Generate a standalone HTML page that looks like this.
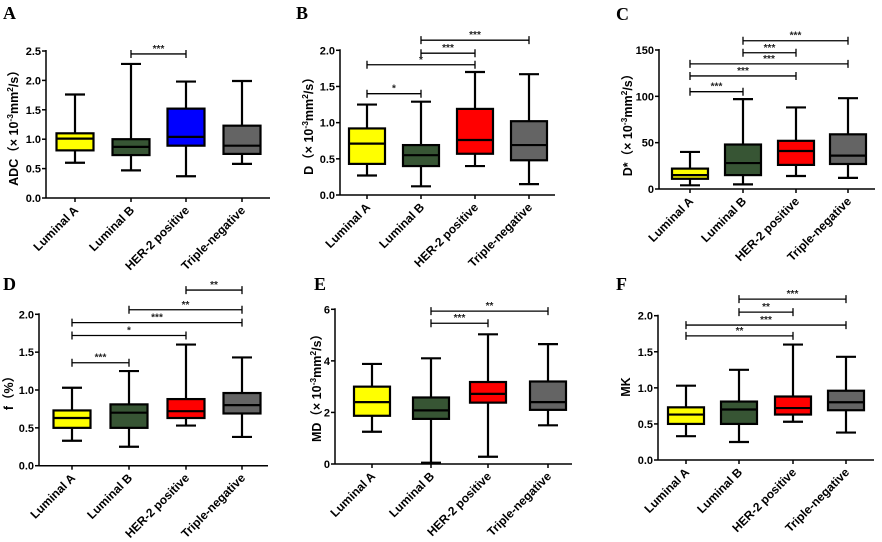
<!DOCTYPE html>
<html><head><meta charset="utf-8"><style>
body{margin:0;background:#fff}
svg{display:block;font-family:"Liberation Sans","Noto Sans CJK SC",sans-serif}
.tk{font-size:11px;font-weight:bold}
.cat{font-size:12px;font-weight:bold}
.pl{font-family:"Liberation Serif",serif;font-size:18px;font-weight:bold}
.yt{font-size:12.5px;font-weight:bold}
.st{font-size:10px;font-weight:bold;fill:#222}
</style></head><body>
<svg id="fig" width="882" height="542" viewBox="0 0 882 542" xmlns="http://www.w3.org/2000/svg"></svg>
<script>
const categories=["Luminal A","Luminal B","HER-2 positive","Triple-negative"];
const colors=["#ffff00","#375534","#0000ff","#646464"];
const colorsRed=["#ffff00","#375534","#ff0000","#646464"];
// Panel A: ADC
const aMin=[0.6,0.47,0.37,0.58],aQ1=[0.81,0.73,0.89,0.75],aMed=[1.01,0.87,1.04,0.89],aQ3=[1.1,1.0,1.52,1.23],aMax=[1.76,2.28,1.98,1.99];
const aTicks=["0.0","0.5","1.0","1.5","2.0","2.5"];
const aSig=[[1,2,2.45,"***"]];
// Panel B: D
const bMin=[0.27,0.12,0.4,0.15],bQ1=[0.43,0.4,0.57,0.48],bMed=[0.71,0.55,0.76,0.69],bQ3=[0.92,0.69,1.19,1.02],bMax=[1.25,1.29,1.7,1.67];
const bTicks=["0.0","0.5","1.0","1.5","2.0"];
const bSig=[[0,1,1.4,"*"],[0,2,1.8,"*"],[1,2,1.96,"***"],[1,3,2.14,"***"]];
// Panel C: D*
const cMin=[4,5,14,12],cQ1=[11,15,26,27],cMed=[15,28,41,36],cQ3=[22,48,52,59],cMax=[40,97,88,98];
const cTicks=["0","50","100","150"];
const cSig=[[0,1,105,"***"],[0,2,122,"***"],[0,3,135,"***"],[1,2,147,"***"],[1,3,160,"***"]];
// Panel D: f
const dMin=[0.33,0.25,0.53,0.38],dQ1=[0.5,0.5,0.63,0.69],dMed=[0.63,0.7,0.72,0.8],dQ3=[0.73,0.81,0.88,0.96],dMax=[1.03,1.25,1.6,1.43];
const dTicks=["0.0","0.5","1.0","1.5","2.0"];
const dSig=[[0,1,1.36,"***"],[0,2,1.72,"*"],[0,3,1.89,"***"],[1,3,2.06,"**"],[2,3,2.32,"**"]];
// Panel E: MD
const eMin=[1.25,0.05,0.28,1.5],eQ1=[1.87,1.75,2.38,2.1],eMed=[2.4,2.08,2.72,2.4],eQ3=[3.0,2.58,3.18,3.2],eMax=[3.88,4.1,5.03,4.65];
const eTicks=["0","2","4","6"];
const eSig=[[1,2,5.46,"***"],[1,3,5.93,"**"]];
// Panel F: MK
const fMin=[0.33,0.25,0.53,0.38],fQ1=[0.5,0.5,0.63,0.69],fMed=[0.63,0.7,0.72,0.8],fQ3=[0.73,0.81,0.88,0.96],fMax=[1.03,1.25,1.6,1.43];
const fTicks=["0.0","0.5","1.0","1.5","2.0"];
const fSig=[[0,2,1.72,"**"],[0,3,1.87,"***"],[1,2,2.05,"**"],[1,3,2.23,"***"]];

const NS="http://www.w3.org/2000/svg";
const svg=document.getElementById('fig');
function mk(tag,attrs,parent,text){const e=document.createElementNS(NS,tag);for(const k in attrs)e.setAttribute(k,attrs[k]);if(text!==undefined)e.textContent=text;(parent||svg).appendChild(e);return e;}

function panel(o){
  const g=mk('g',{});
  
  
  const y=v=>o.y0-(v-o.vmin)/(o.vmax-o.vmin)*(o.y0-o.ytop);
  const x=i=>o.cx[i];
  const lt=mk('text',{x:o.lx,y:o.ly,class:'pl'},g,o.id);
  
  
  const ya=mk('line',{x1:o.ax,y1:y(o.vmax)-1,x2:o.ax,y2:o.y0,stroke:'#000','stroke-width':1.5},g);
  
  
  const xa=mk('line',{x1:o.ax,y1:o.y0,x2:o.axEnd,y2:o.y0,stroke:'#000','stroke-width':1.5},g);
  
  
  o.ticks.forEach((t,i)=>{
    const v=o.vmin+i*o.step,yy=y(v);
    mk('line',{x1:o.ax-4,y1:yy,x2:o.ax,y2:yy,stroke:'#000','stroke-width':1.5},g);
    const tl=mk('text',{x:o.ax-5,y:yy+4,class:'tk','text-anchor':'end'},g,t);
    
    
  });
  categories.forEach((c,i)=>{
    mk('line',{x1:x(i),y1:o.y0,x2:x(i),y2:o.y0+4,stroke:'#000','stroke-width':1.5},g);
    const cl=mk('text',{x:x(i)+4,y:o.y0+13,class:'cat','text-anchor':'end',transform:`rotate(-45 ${x(i)+4} ${o.y0+13})`},g,c);
    
    
    const bw=o.bw,cap=10;
    const wk=mk('path',{d:`M${x(i)},${y(o.mn[i])}V${y(o.q1[i])}M${x(i)},${y(o.q3[i])}V${y(o.mx[i])}M${x(i)-cap},${y(o.mn[i])}H${x(i)+cap}M${x(i)-cap},${y(o.mx[i])}H${x(i)+cap}`,stroke:'#000','stroke-width':2.2,fill:'none'},g);
    
    
    const bx=mk('rect',{x:x(i)-bw/2,y:y(o.q3[i]),width:bw,height:y(o.q1[i])-y(o.q3[i]),fill:o.col[i],stroke:'#000','stroke-width':2.2},g);
    
    
    const md=mk('line',{x1:x(i)-bw/2,y1:y(o.med[i]),x2:x(i)+bw/2,y2:y(o.med[i]),stroke:'#000','stroke-width':2.2},g);
    
    
  });
  o.sig.forEach(s=>{
    const x1=x(s[0]),x2=x(s[1]),yy=y(s[2]);
    const br=mk('path',{d:`M${x1},${yy-4}V${yy+4}M${x1},${yy}H${x2}M${x2},${yy-4}V${yy+4}`,stroke:'#000','stroke-width':1.3,fill:'none'},g);
    
    
    const st=mk('text',{x:(x1+x2)/2,y:yy-2,class:'st','text-anchor':'middle'},g,s[3]);
    
    
  });
  const yt=mk('text',{x:o.tx,y:o.ty,class:'yt','text-anchor':'middle',transform:`rotate(-90 ${o.tx} ${o.ty})`},g);
  
  
  if(o.unit){
    mk('tspan',{},yt,o.title+'（× 10');
    mk('tspan',{dy:-5,'font-size':'8.5px'},yt,'-3');
    mk('tspan',{dy:5},yt,'mm');
    mk('tspan',{dy:-5,'font-size':'8.5px'},yt,'2');
    mk('tspan',{dy:5},yt,'/s）');
  } else yt.textContent=o.title;
}
panel({id:'A',lx:3,ly:19,ax:46,axEnd:270,y0:198,ytop:51,vmin:0,vmax:2.5,step:0.5,ticks:aTicks,cx:[75,131,186,242],bw:37,mn:aMin,q1:aQ1,med:aMed,q3:aQ3,mx:aMax,col:colors,sig:aSig,title:'ADC',unit:true,tx:18,ty:125});
panel({id:'B',lx:296,ly:19,ax:340,axEnd:555,y0:195,ytop:50.3,vmin:0,vmax:2.0,step:0.5,ticks:bTicks,cx:[367,421,475,529],bw:36,mn:bMin,q1:bQ1,med:bMed,q3:bQ3,mx:bMax,col:colorsRed,sig:bSig,title:'D',unit:true,tx:313,ty:123});
panel({id:'C',lx:616,ly:20,ax:659,axEnd:875,y0:189,ytop:50,vmin:0,vmax:150,step:50,ticks:cTicks,cx:[690,743,796,848],bw:36,mn:cMin,q1:cQ1,med:cMed,q3:cQ3,mx:cMax,col:colorsRed,sig:cSig,title:'D*',unit:true,tx:632,ty:122});
panel({id:'D',lx:3,ly:290,ax:39,axEnd:268,y0:465.7,ytop:314.3,vmin:0,vmax:2.0,step:0.5,ticks:dTicks,cx:[72,129,186,242],bw:37,mn:dMin,q1:dQ1,med:dMed,q3:dQ3,mx:dMax,col:colorsRed,sig:dSig,title:'f（%）',unit:false,tx:13,ty:390});
panel({id:'E',lx:314,ly:290,ax:335,axEnd:572,y0:464,ytop:309.3,vmin:0,vmax:6,step:2,ticks:eTicks,cx:[372,431,488,548],bw:36,mn:eMin,q1:eQ1,med:eMed,q3:eQ3,mx:eMax,col:colorsRed,sig:eSig,title:'MD',unit:true,tx:321,ty:385});
panel({id:'F',lx:616,ly:290,ax:658,axEnd:874,y0:460,ytop:315.7,vmin:0,vmax:2.0,step:0.5,ticks:fTicks,cx:[686,739,793,846],bw:36,mn:fMin,q1:fQ1,med:fMed,q3:fQ3,mx:fMax,col:colorsRed,sig:fSig,title:'MK',unit:false,tx:630,ty:387});
</script>
</body></html>
